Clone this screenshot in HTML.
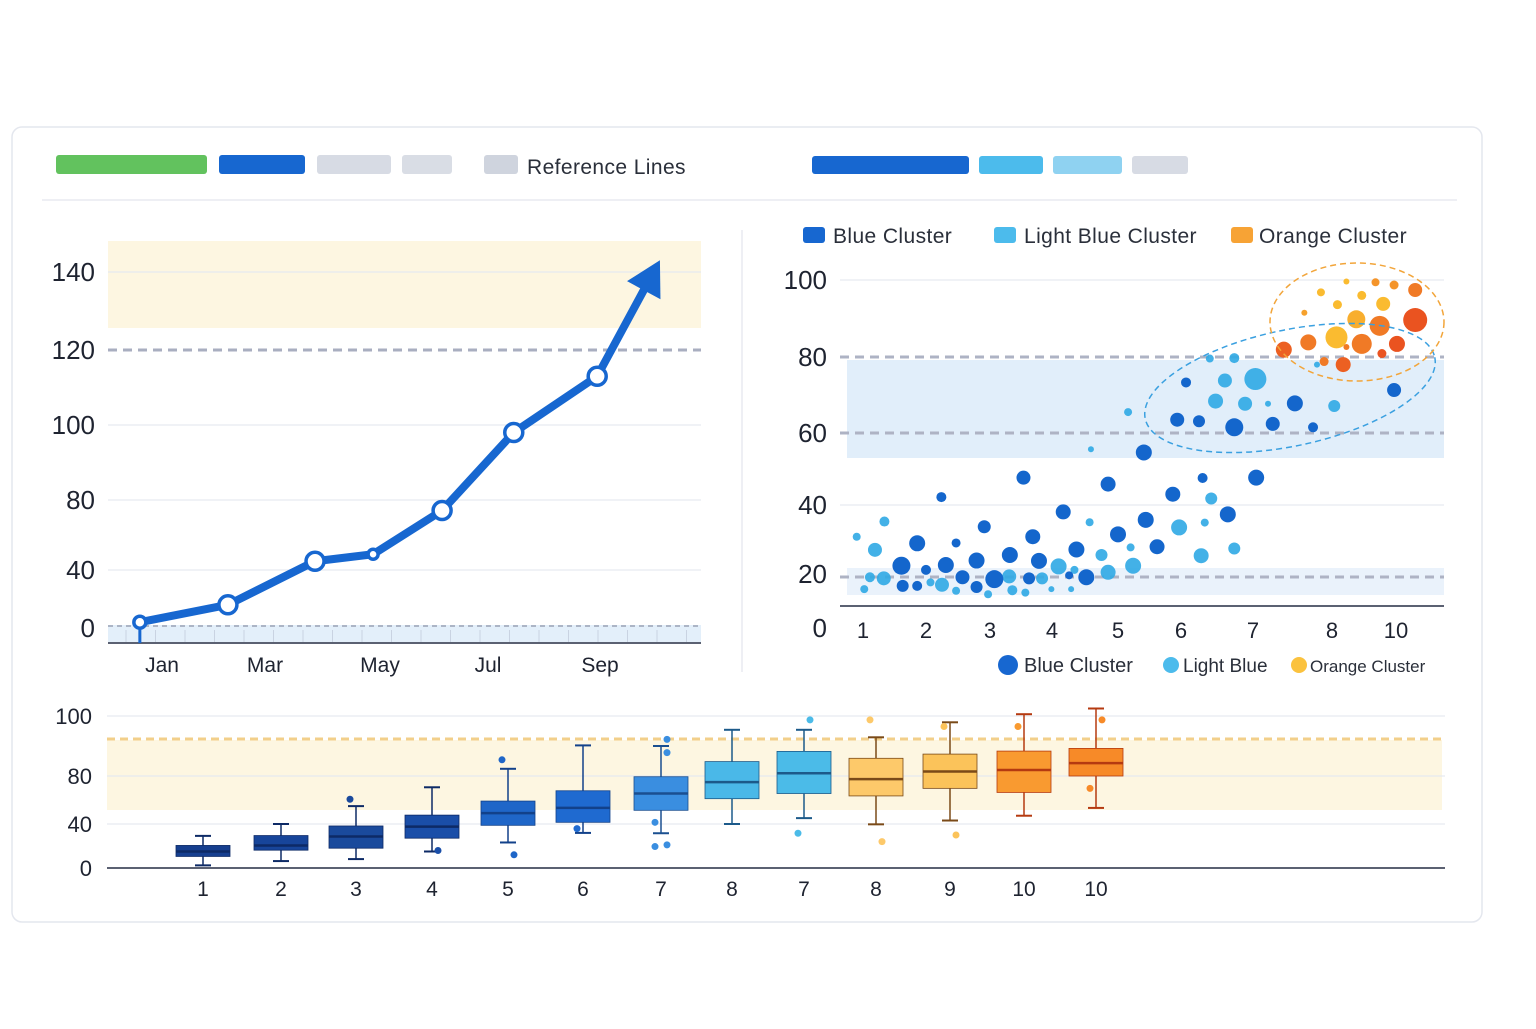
<!DOCTYPE html>
<html><head><meta charset="utf-8">
<style>
html,body{margin:0;padding:0;background:#fff;}
body{width:1536px;height:1024px;overflow:hidden;font-family:"Liberation Sans",sans-serif;}
svg text{font-family:"Liberation Sans",sans-serif;}
</style></head>
<body>
<svg id="root" width="1536" height="1024" viewBox="0 0 1536 1024">
  <rect x="12" y="127" width="1470" height="795" rx="10" fill="#fff" stroke="#e4e7ee" stroke-width="1.5"/>
  <g>
    <rect x="56" y="155" width="151" height="19" rx="3" fill="#62c25e"/>
    <rect x="219" y="155" width="86" height="19" rx="3" fill="#1767d0"/>
    <rect x="317" y="155" width="74" height="19" rx="3" fill="#d7dbe4"/>
    <rect x="402" y="155" width="50" height="19" rx="3" fill="#d9dde5"/>
    <rect x="484" y="155" width="34" height="19" rx="3" fill="#cfd4de"/>
    <text x="527" y="174" font-size="21" letter-spacing="0.4" fill="#2a2f3a">Reference Lines</text>
    <rect x="812" y="156" width="157" height="18" rx="3" fill="#1767d0"/>
    <rect x="979" y="156" width="64" height="18" rx="3" fill="#4cbbec"/>
    <rect x="1053" y="156" width="69" height="18" rx="3" fill="#8fd2f1"/>
    <rect x="1132" y="156" width="56" height="18" rx="3" fill="#d7dbe4"/>
  </g>
  <line x1="42" y1="200" x2="1457" y2="200" stroke="#e8eaf0" stroke-width="1.5"/>
  <line x1="742" y1="230" x2="742" y2="672" stroke="#e8eaf0" stroke-width="1.5"/>
  <g id="line"></g>
  <g id="scatter"></g>
  <g id="box"></g>
</svg>
<script>
// ---------- LINE CHART DATA ----------
const lineMonths = ["Jan","Mar","May","Jul","Sep"];
const lineMonthPos = [1,3,5,7,9];
const lineX = [0.57,2.28,3.87,4.88,6.15,7.46,8.95];
const lineY = [4,16,45,49,74,98,113];
const lineArrowEnd = [10.07,143];
const lineYTicks = [0,40,80,100,120,140];
// ---------- SCATTER DATA ----------
const scXTicks = [1,2,3,4,5,6,7,8,10];
const scYTicks = [0,20,40,60,80,100];
const blueX = [1.61,1.86,1.63,1.86,2.24,2.0,2.31,2.47,2.57,2.79,2.79,2.91,3.07,3.32,3.54,3.63,3.69,3.79,4.17,4.37,4.52,4.85,5.0,5.44,5.41,5.62,5.87,6.3,6.65,7.04,5.94,6.25,6.07,6.74,7.25,7.53,7.76,9.94,4.26];
const blueY = [22.4,28.9,15.6,15.6,42.2,21.2,22.6,29,18.8,23.9,15.2,33.7,18.1,25.5,47.6,18.4,30.8,23.8,38,27.1,18.8,45.8,31.5,35.7,54.6,27.9,43,47.5,37.3,47.6,63.5,63.1,73.3,61.5,62.4,67.8,61.5,71.3,19.5];
const blueR = [9,8,6,5,5,5,8,4.5,7,8,6,6.5,9,8,7,6,7.5,8,7.5,8,8,7.5,8,8,8,7.5,7.5,5,8,8,7,6,5,9,7,8,5,7,4];
const lbX = [0.9,1.34,1.19,1.11,1.33,1.02,2.07,2.25,2.47,2.97,3.31,3.36,3.57,3.84,3.99,4.1,4.29,4.34,4.57,4.59,4.75,4.85,5.2,5.24,5.16,5.97,6.28,6.33,6.42,6.74,6.4,6.74,6.61,6.48,6.89,7.03,7.19,8.07,7.81];
const lbY = [30.8,35.2,27,18.8,18.4,14.4,16.9,16,13.8,12.5,19.1,14,13.1,18.4,14.4,22.2,14.4,21.2,35,55.5,25.5,20.5,27.7,22.4,65.5,33.5,25.3,34.9,41.8,27.4,79.6,79.7,73.8,68.4,67.7,74.2,67.7,67.1,78];
const lbR = [4,5,7,5,7,4,4,7,4,4,7,5,4,6,3,8,3,4,4,3,6,7.5,4,8,4,8,7.5,4,6,6,4,5,7,7.5,7,11,3,6,3];
const orX = [7.39,7.7,7.65,7.86,8.17,8.45,8.93,9.36,9.6,9.94,10.6,8.76,9.49,10.6,8.14,8.93,10.03,9.56,7.9,8.35,8.45];
const orY = [81.9,83.8,91.5,96.8,93.6,99.6,96,99.4,93.8,98.7,97.4,89.8,88.1,89.6,85.1,83.4,83.4,80.9,78.8,78,82.6];
const orR = [8,8,3,4,4.5,3,4.5,4,7,4.5,7,9,10,12,11,10,8,4.5,4.5,7.5,3];
const orHeat = [0.8,0.6,0.3,0.1,0.1,0.1,0.1,0.4,0.1,0.4,0.6,0.2,0.6,0.9,0.1,0.6,0.9,0.9,0.6,0.8,0.6];
// ---------- BOX PLOT DATA ----------
const boxLabels = ["1","2","3","4","5","6","7","8","7","8","9","10","10"];
const boxQ1 = [10.5,16.2,18,27.1,38.8,41.4,51.4,61.1,65.4,63.4,69.7,66.3,80];
const boxMed = [15,20.5,28.6,37.6,49.1,53.4,65.4,74.9,80.9,77.4,81.5,82,84.3];
const boxQ3 = [20.5,29.5,38.2,47.4,59.1,67.7,79.4,84.8,88.2,85.9,87.3,88.3,89.2];
const boxLo = [2.4,6.3,8.1,15,23.2,31.9,31.6,40,44.9,39.7,42.9,46.9,53.4];
const boxHi = [29.2,40,54.9,70.6,82.4,90.2,90,95.4,95.4,92.9,97.9,100.6,102.5];
const boxOutIdx = [2,3,4,4,5,6,6,6,6,6,8,8,9,9,10,10,11,12,12];
const boxOutVal = [60.6,15.9,85.4,12,35.8,87.8,41.4,21,19.5,92.2,31.6,98.7,98.7,24,96.5,30,96.5,98.7,69.7];
const boxYTicks = [0,40,80,100];

const NS="http://www.w3.org/2000/svg";
function mk(parent,tag,attrs){const e=document.createElementNS(NS,tag);for(const k in attrs)e.setAttribute(k,attrs[k]);parent.appendChild(e);return e;}
function piece(dom,rng){return v=>{let i=0;while(i<dom.length-2&&v>dom[i+1])i++;const t=(v-dom[i])/(dom[i+1]-dom[i]);return rng[i]+t*(rng[i+1]-rng[i]);};}

// ===== LINE CHART =====
(function(){
  const g=document.getElementById('line');
  const xs=piece([1,3,5,7,9],[162,265,380,488,600]);
  const ys=piece(lineYTicks,[628,570,500,425,350,272]);
  let e=mk(g,'rect',{x:108,y:241,width:593,height:87,fill:'#fdf6e1'});
  
  [40,80,100,140].forEach(v=>{const l=mk(g,'line',{x1:108,x2:701,y1:ys(v),y2:ys(v),stroke:'#e6e9f0','stroke-width':1.2});
    });
  e=mk(g,'line',{x1:108,x2:701,y1:ys(120),y2:ys(120),stroke:'#a9aec0','stroke-width':3,'stroke-dasharray':'9 6'});
  
  e=mk(g,'rect',{x:108,y:625,width:593,height:18,fill:'#e3effa'});
  
  for(let i=0;i<20;i++){const x=126+i*29.5;const t=mk(g,'line',{x1:x,x2:x,y1:630,y2:643,stroke:'#c9d3e2','stroke-width':1});
    }
  e=mk(g,'line',{x1:108,x2:701,y1:626,y2:626,stroke:'#9aa2b5','stroke-width':1.5,'stroke-dasharray':'5 4'});
  
  e=mk(g,'line',{x1:108,x2:701,y1:643,y2:643,stroke:'#5b6172','stroke-width':2});
  
  lineYTicks.forEach(v=>{const t=mk(g,'text',{x:95,y:ys(v)+9,'font-size':26,fill:'#1e2330','text-anchor':'end'});t.textContent=v;
    });
  lineMonths.forEach((m,i)=>{const t=mk(g,'text',{x:xs(lineMonthPos[i]),y:672,'font-size':21,fill:'#1e2330','text-anchor':'middle'});t.textContent=m;
    });
  e=mk(g,'line',{x1:xs(lineX[0]),x2:xs(lineX[0]),y1:ys(lineY[0]),y2:643,stroke:'#1767d0','stroke-width':3});
  
  let pts=lineX.map((x,i)=>xs(x)+','+ys(lineY[i]));
  const ax=xs(lineArrowEnd[0]),ay=ys(lineArrowEnd[1]);
  const lx=xs(lineX[6]),ly=ys(lineY[6]);
  const ang=Math.atan2(ay-ly,ax-lx);const back=34;
  const bx=ax-back*Math.cos(ang),by=ay-back*Math.sin(ang);
  e=mk(g,'polyline',{points:pts.join(' ')+' '+bx+','+by,fill:'none',stroke:'#1767d0','stroke-width':8,'stroke-linejoin':'round','stroke-linecap':'round'});
  
  const px=-Math.sin(ang),py=Math.cos(ang);
  e=mk(g,'polygon',{points:`${ax},${ay} ${bx+px*19},${by+py*19} ${bx-px*19},${by-py*19}`,fill:'#1767d0'});
  
  lineX.forEach((x,i)=>{const c=mk(g,'circle',{cx:xs(x),cy:ys(lineY[i]),r:i==3?5:(i==0?6:9),fill:'#fff',stroke:'#1767d0','stroke-width':3.5});
    });
})();

// ===== SCATTER =====
(function(){
  const g=document.getElementById('scatter');
  const xs=piece(scXTicks,[863,926,990,1052,1118,1181,1253,1332,1396]);
  const ys=piece(scYTicks,[628,574,505,433,357,280]);
  let e=mk(g,'rect',{x:847,y:360,width:597,height:98,fill:'#e1eefa'});
  
  e=mk(g,'rect',{x:847,y:568,width:597,height:27,fill:'#eaf2fb'});
  
  [100,40].forEach(v=>{const l=mk(g,'line',{x1:840,x2:1444,y1:ys(v),y2:ys(v),stroke:'#e6e9f0','stroke-width':1.2});
    });
  [[80,0],[60,0],[20,3]].forEach(a=>{const l=mk(g,'line',{x1:840,x2:1444,y1:ys(a[0])+a[1],y2:ys(a[0])+a[1],stroke:'#aeb3c4','stroke-width':3,'stroke-dasharray':'9 6'});
    });
  e=mk(g,'line',{x1:840,x2:1444,y1:606,y2:606,stroke:'#5b6172','stroke-width':2});
  
  scYTicks.forEach(v=>{const t=mk(g,'text',{x:827,y:ys(v)+9,'font-size':26,fill:'#1e2330','text-anchor':'end'});t.textContent=v;
    });
  scXTicks.forEach(v=>{const t=mk(g,'text',{x:xs(v),y:638,'font-size':22,fill:'#1e2330','text-anchor':'middle'});t.textContent=v;
    });
  lbX.forEach((x,i)=>{const c=mk(g,'circle',{cx:xs(x),cy:ys(lbY[i]),r:lbR[i],fill:'#2fa9e4',opacity:0.9});
    });
  blueX.forEach((x,i)=>{const c=mk(g,'circle',{cx:xs(x),cy:ys(blueY[i]),r:blueR[i],fill:'#1466cc'});
    });
  function heat(h){const r=Math.round(252-h*20),gg=Math.round(200-h*130),b=Math.round(50-h*20);return `rgb(${r},${gg},${b})`;}
  orX.forEach((x,i)=>{const c=mk(g,'circle',{cx:xs(x),cy:ys(orY[i]),r:orR[i],fill:heat(orHeat[i])});
    });
  e=mk(g,'ellipse',{cx:1290,cy:388,rx:148,ry:58,transform:'rotate(-12 1290 388)',fill:'none',stroke:'#3aa0e0','stroke-width':1.5,'stroke-dasharray':'6 4'});
  
  e=mk(g,'ellipse',{cx:1357,cy:322,rx:87,ry:59,fill:'none',stroke:'#f2a53a','stroke-width':1.5,'stroke-dasharray':'6 4'});
  
  const leg=[[803,'#1767d0',833,'Blue Cluster'],[994,'#4cbbec',1024,'Light Blue Cluster'],[1231,'#f7a335',1259,'Orange Cluster']];
  leg.forEach(l=>{const r=mk(g,'rect',{x:l[0],y:227,width:22,height:16,rx:3,fill:l[1]});
    
    const t=mk(g,'text',{x:l[2],y:243,'font-size':21,'letter-spacing':0.4,fill:'#2a2f3a'});t.textContent=l[3];
    });
  const leg2=[[1008,10,'#1767d0',1024,20,'Blue Cluster'],[1171,8,'#4cbbec',1183,19,'Light Blue'],[1299,8,'#fbc23e',1310,17,'Orange Cluster']];
  leg2.forEach(l=>{const c=mk(g,'circle',{cx:l[0],cy:665,r:l[1],fill:l[2]});
    
    const t=mk(g,'text',{x:l[3],y:672,'font-size':l[4],fill:'#2a2f3a'});t.textContent=l[5];
    });
})();

// ===== BOX PLOT =====
(function(){
  const g=document.getElementById('box');
  const ys=piece(boxYTicks,[868,824,776,716]);
  const xs=piece([0,1,2,3,4,5,6,7,8,9,10,11,12],[203,281,356,432,508,583,661,732,804,876,950,1024,1096]);
  const colors=['#163f8f','#17459a','#1a4a9c','#1a4ea8','#1f66c8','#1f6ad0','#3a8ee0','#4ab8e8','#4bbbe8','#fdc96a','#fbc35a','#f99a30','#f78a28'];
  const medC=['#0d2a66','#0d2a66','#0d2a66','#0d2a66','#12418a','#12418a','#1a4f90','#1c5a8a','#1c5a8a','#7a4a18','#7a4a18','#b53a10','#b53a10'];
  let e=mk(g,'rect',{x:107,y:740,width:1335,height:70,fill:'#fdf6e1'});
  
  [0,40,80,100].forEach(v=>{const l=mk(g,'line',{x1:107,x2:1445,y1:ys(v),y2:ys(v),stroke:v==0?'#5b6172':'#e6e9f0','stroke-width':v==0?2:1.2});
    });
  e=mk(g,'line',{x1:107,x2:1442,y1:739,y2:739,stroke:'#f2cf8a','stroke-width':3,'stroke-dasharray':'8 5'});
  
  boxYTicks.forEach(v=>{const t=mk(g,'text',{x:92,y:ys(v)+8,'font-size':22,fill:'#1e2330','text-anchor':'end'});t.textContent=v;
    });
  boxLabels.forEach((lab,i)=>{
    const x=xs(i),c=colors[i],w=27;
    const wl=mk(g,'line',{x1:x,x2:x,y1:ys(boxLo[i]),y2:ys(boxHi[i]),stroke:medC[i],'stroke-width':1.5});
    
    [boxLo[i],boxHi[i]].forEach(v=>{const cap=mk(g,'line',{x1:x-8,x2:x+8,y1:ys(v),y2:ys(v),stroke:medC[i],'stroke-width':2});
      });
    const r=mk(g,'rect',{x:x-w,y:ys(boxQ3[i]),width:2*w,height:ys(boxQ1[i])-ys(boxQ3[i]),fill:c,stroke:medC[i],'stroke-width':0.8});
    
    const m=mk(g,'line',{x1:x-w,x2:x+w,y1:ys(boxMed[i]),y2:ys(boxMed[i]),stroke:medC[i],'stroke-width':2.5});
    
    const t=mk(g,'text',{x:x,y:896,'font-size':21,fill:'#1e2330','text-anchor':'middle'});t.textContent=lab;
    
  });
  boxOutIdx.forEach((bi,k)=>{const c=mk(g,'circle',{cx:xs(bi)+(k%2?6:-6),cy:ys(boxOutVal[k]),r:3.5,fill:colors[bi]});
    });
})();
</script>
</body></html>
